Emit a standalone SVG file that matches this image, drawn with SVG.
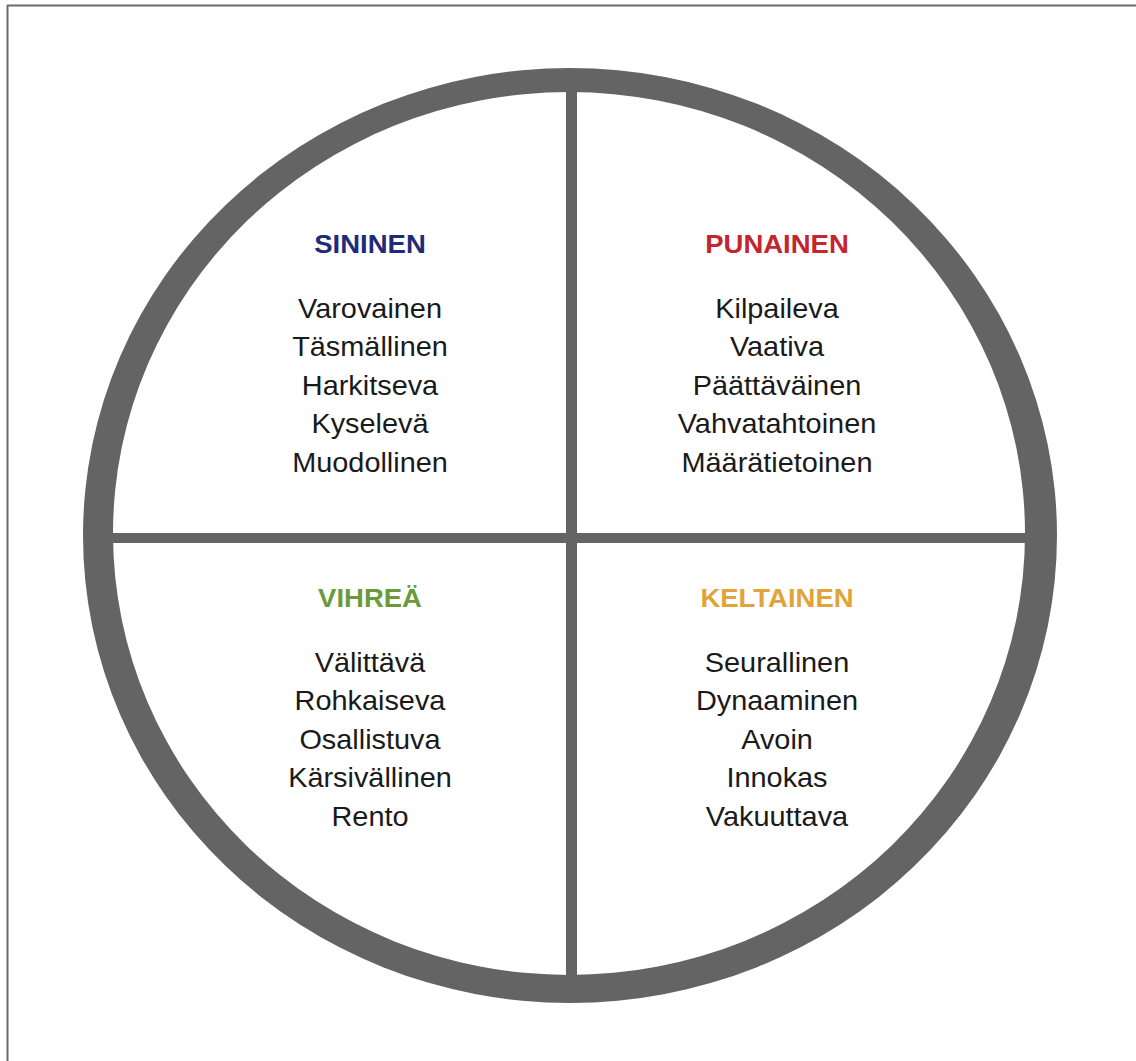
<svg xmlns="http://www.w3.org/2000/svg" width="1136" height="1061" viewBox="0 0 1136 1061">
<style>
.h{font-family:"Liberation Sans",Arial,sans-serif;font-weight:bold;font-size:25px;text-anchor:middle}
.t{font-family:"Liberation Sans",Arial,sans-serif;font-size:27.5px;fill:#1a1a1a;text-anchor:middle}
.g{fill:#646464}
</style>
<rect width="1136" height="1061" fill="#ffffff"/>
<g id="frame" stroke="#6a6a6a" stroke-width="2" fill="none">
<line x1="7" y1="5.5" x2="1136" y2="5.5"/>
<line x1="7.5" y1="5" x2="7.5" y2="1061"/>
</g>
<g id="connectors">
<rect class="g" x="566" y="85" width="11" height="900"/>
<rect class="g" x="100" y="533" width="940" height="10"/>
</g>
<g id="ring">
<path class="g" fill-rule="evenodd" d="M83,535.5 A487,467.5 0 1,0 1057,535.5 A487,467.5 0 1,0 83,535.5 Z M113,533.5 A456,441.5 0 1,1 1025,533.5 A456,441.5 0 1,1 113,533.5 Z"/>
</g>
<g id="sininen">
<g transform="translate(370,0) scale(1.1,1)"><text class="h" x="0" y="253" fill="#1f2a78">SININEN</text></g>
<g transform="translate(370,0) scale(1.05,1)">
<text class="t" x="0" y="318">Varovainen</text>
<text class="t" x="0" y="356.5">Täsmällinen</text>
<text class="t" x="0" y="395">Harkitseva</text>
<text class="t" x="0" y="433.5">Kyselevä</text>
<text class="t" x="0" y="472">Muodollinen</text>
</g>
</g>
<g id="punainen">
<g transform="translate(777,0) scale(1.1,1)"><text class="h" x="0" y="253" fill="#c4262e">PUNAINEN</text></g>
<g transform="translate(777,0) scale(1.05,1)">
<text class="t" x="0" y="318">Kilpaileva</text>
<text class="t" x="0" y="356.5">Vaativa</text>
<text class="t" x="0" y="395">Päättäväinen</text>
<text class="t" x="0" y="433.5">Vahvatahtoinen</text>
<text class="t" x="0" y="472">Määrätietoinen</text>
</g>
</g>
<g id="vihrea">
<g transform="translate(370,0) scale(1.1,1)"><text class="h" x="0" y="607" fill="#6b9a3c">VIHREÄ</text></g>
<g transform="translate(370,0) scale(1.05,1)">
<text class="t" x="0" y="672">Välittävä</text>
<text class="t" x="0" y="710.5">Rohkaiseva</text>
<text class="t" x="0" y="749">Osallistuva</text>
<text class="t" x="0" y="787.5">Kärsivällinen</text>
<text class="t" x="0" y="826">Rento</text>
</g>
</g>
<g id="keltainen">
<g transform="translate(777,0) scale(1.1,1)"><text class="h" x="0" y="607" fill="#e0a43a">KELTAINEN</text></g>
<g transform="translate(777,0) scale(1.05,1)">
<text class="t" x="0" y="672">Seurallinen</text>
<text class="t" x="0" y="710.5">Dynaaminen</text>
<text class="t" x="0" y="749">Avoin</text>
<text class="t" x="0" y="787.5">Innokas</text>
<text class="t" x="0" y="826">Vakuuttava</text>
</g>
</g>
</svg>
